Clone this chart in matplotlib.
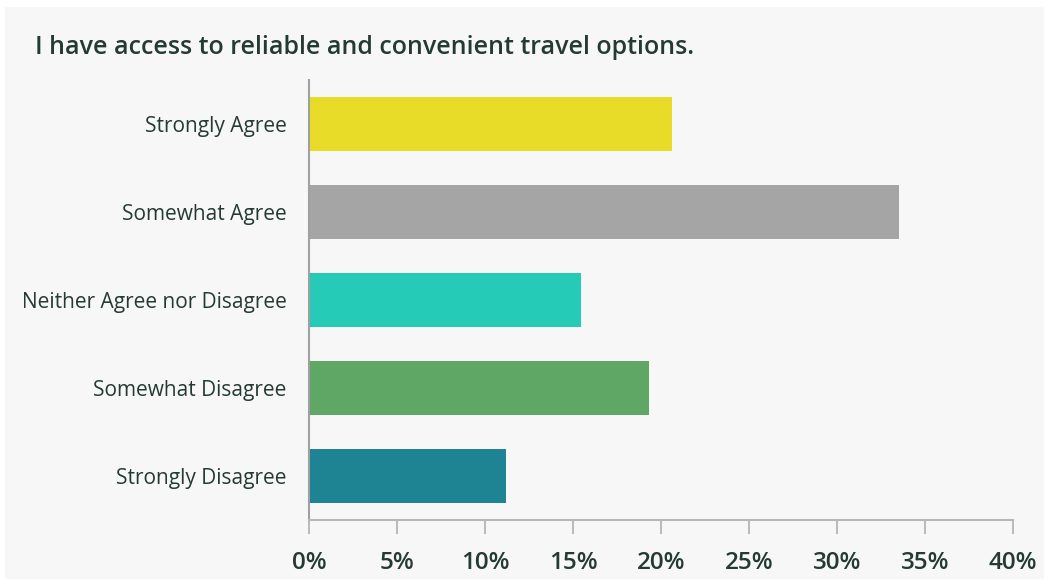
import matplotlib.pyplot as plt
from matplotlib.patches import Rectangle
from matplotlib.ticker import FuncFormatter

plt.rcParams['font.family'] = ['Open Sans', 'DejaVu Sans']

# Survey data
categories = ['Strongly Agree', 'Somewhat Agree', 'Neither Agree nor Disagree',
              'Somewhat Disagree', 'Strongly Disagree']
shares = [20.6, 33.5, 15.45, 19.3, 11.2]
colors = ['#e8dc28', '#a5a5a5', '#26cbb8', '#5fa765', '#1e8493']
ticks = [0, 5, 10, 15, 20, 25, 30, 35, 40]

text_color = '#243b35'
bg = '#f7f7f7'

fig = plt.figure(figsize=(10.45, 5.8), dpi=100)
fig.patch.set_facecolor('white')
# light grey panel behind the chart
fig.add_artist(Rectangle((5 / 1045, 1 / 580), 1039 / 1045, 572 / 580,
                         transform=fig.transFigure, facecolor=bg,
                         edgecolor='none', zorder=-10))

ax = fig.add_axes([309 / 1045, 1 - 520 / 580, 704 / 1045, 440 / 580])
ax.set_facecolor(bg)

ypos = range(len(categories))
ax.barh(ypos, shares, height=0.614, color=colors, zorder=2)

ax.set_ylim(len(categories) - 0.5, -0.5)
ax.set_xlim(0, 40)
ax.set_yticks(list(ypos))
ax.set_yticklabels(categories, fontsize=15, color=text_color)
ax.tick_params(axis='y', length=0, pad=16)

ax.set_xticks(ticks)
ax.xaxis.set_major_formatter(FuncFormatter(lambda v, p: f'{v:.0f}%'))
ax.tick_params(axis='x', length=10, width=1.2, color='#b0b0b0', pad=12,
               labelsize=17.5, labelcolor=text_color)
for lbl in ax.get_xticklabels():
    lbl.set_fontweight('semibold')

for s in ['top', 'right']:
    ax.spines[s].set_visible(False)
ax.spines['left'].set_color('#a0a0a0')
ax.spines['left'].set_linewidth(1.5)
ax.spines['bottom'].set_color('#b8b8b8')
ax.spines['bottom'].set_linewidth(1.5)

fig.text(35 / 1045, 1 - 47 / 580,
         'I have access to reliable and convenient travel options.',
         fontsize=18, fontweight='semibold', color=text_color,
         ha='left', va='center')

fig.savefig('out.png', dpi=100, facecolor='white')
